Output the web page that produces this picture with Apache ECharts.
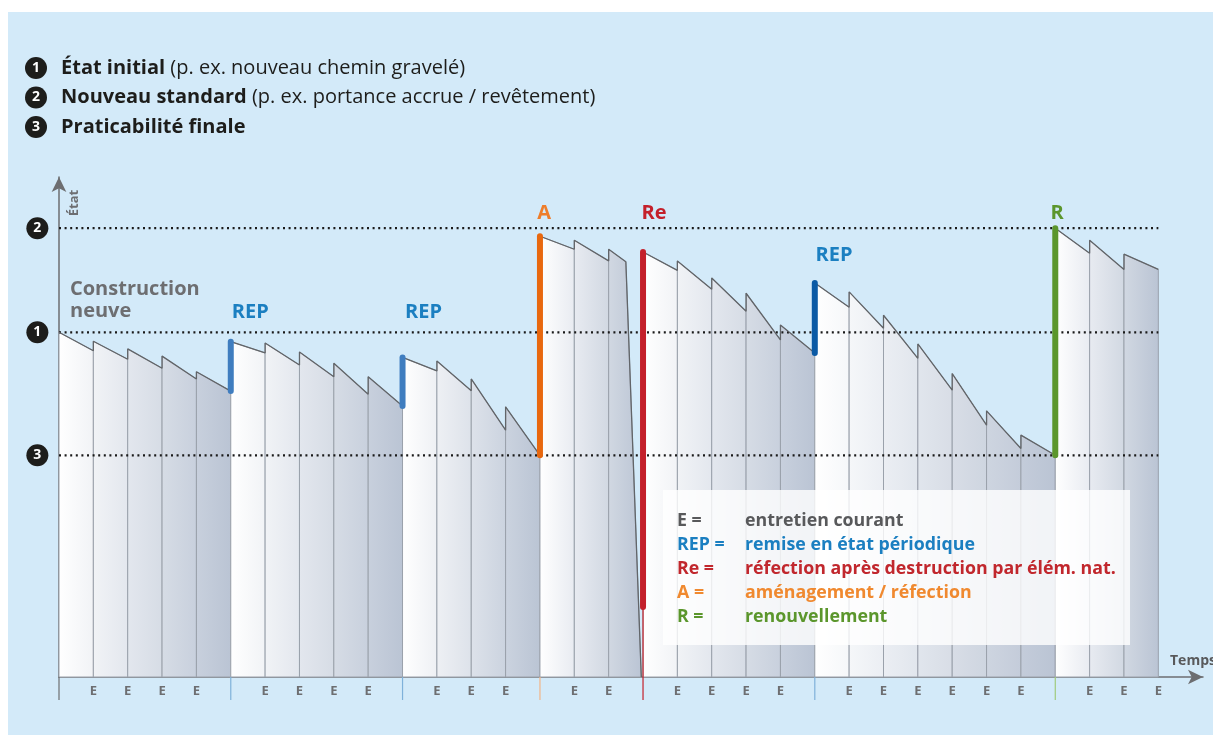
<!DOCTYPE html>
<html>
<head>
<meta charset="utf-8">
<script src="https://cdn.jsdelivr.net/npm/echarts/dist/echarts.min.js"></script>
<style>
  html, body { margin: 0; padding: 0; background: #fff; }
  #bg { position: absolute; left: 8px; top: 12px; width: 1205px; height: 723px; background: #d3eaf9; }
  #main { position: absolute; left: 0; top: 0; width: 1213px; height: 742px; }
</style>
</head>
<body>
<div id="bg"></div>
<div id="main"></div>
<script>
const FONT = '"Open Sans", Roboto, sans-serif'

// état au début / à la fin de chaque intervalle d'entretien (0 = axe du temps, 100 = niveau 2)
const startState = [76.8, 74.8, 73.1, 71.5, 68.0,  74.7, 74.4, 72.4, 69.9, 66.9,  71.2, 70.4, 66.4, 60.2,
  98.2, 97.3, 95.3,  94.7, 92.7, 88.9, 85.5, 78.4,  87.8, 85.8, 80.6, 74.2, 67.6, 59.3, 53.9,  100, 97.3, 94.2]
const endState = [72.7, 70.8, 68.8, 66.4, 63.7,  72.2, 69.5, 66.9, 63.0, 60.4,  68.2, 63.8, 55.0, 49.4,
  95.3, 92.7, 92.5,  90.6, 86.4, 81.5, 75.1, 72.2,  82.4, 77.7, 71.0, 63.9, 56.1, 50.9, 49.4,  94.4, 90.8, 90.8]

// destruction par éléments naturels
const dropSlot = 16
const dropTopT = 16.5
const dropBottomT = 16.95

// limites des périodes (temps) et couleur du trait sous l'axe
const sectionT = [0, 5, 10, 14, 17, 22, 29, 32]
const sectionTickColors = ['#6d6e71', '#7fb1da', '#7fb1da', '#f3b488', '#c4202b', '#7fb1da', '#9fca7c']

// entretien courant
const eTicks = [1, 2, 3, 4, 6, 7, 8, 9, 11, 12, 13, 15, 16, 18, 19, 20, 21, 23, 24, 25, 26, 27, 28, 30, 31, 32]

// interventions
const eventNames = ['REP', 'REP', 'A', 'Re', 'REP', 'R']
const eventT = [5, 10, 14, 17, 22, 29]
const eventLow = [63.7, 60.4, 49.4, 15.6, 72.2, 49.4]
const eventHigh = [74.7, 71.2, 98.2, 94.7, 87.8, 100]
const eventColors = ['#3f7dbf', '#3f7dbf', '#e8680f', '#c4202b', '#0b5aa5', '#5b962c']

// niveaux
const levelNames = ['1', '2', '3']
const levelValues = [76.8, 100, 49.4]

// étiquettes
const labelText = ['Construction\nneuve', 'REP', 'REP', 'A', 'Re', 'REP', 'R']
const labelT = [0.32, 5.57, 10.61, 14.12, 17.32, 22.56, 29.05]
const labelY = [84.0, 81.3, 81.3, 103.3, 103.3, 94.0, 103.3]
const labelColors = ['#6d6e71', '#1b7fc1', '#1b7fc1', '#ee7d2a', '#c4202b', '#1b7fc1', '#5b962c']

const legendKeys = ['E =', 'REP =', 'Re =', 'A =', 'R =']
const legendTexts = ['entretien courant', 'remise en état périodique', 'réfection après destruction par élém. nat.',
  'aménagement / réfection', 'renouvellement']
const legendColors = ['#58595b', '#1b7fc1', '#c1272d', '#f0892f', '#5b962c']

function mix(f) {
  const a = [255, 255, 255], b = [186, 196, 212]
  return 'rgb(' + a.map((v, k) => Math.round(v + (b[k] - v) * f)).join(',') + ')'
}

function renderColumn(params, api) {
  const i = params.dataIndex
  const s = api.value(1), e = api.value(2)
  const tr = i === dropSlot ? dropTopT : i + 1
  const br = i === dropSlot ? dropBottomT : i + 1
  let k = 0
  while (sectionT[k + 1] <= i) k++
  const a = sectionT[k], b = sectionT[k + 1]
  const pts = [api.coord([i, 0]), api.coord([i, s]), api.coord([tr, e]), api.coord([br, 0])]
  return {
    type: 'polygon',
    shape: { points: pts },
    style: {
      fill: new echarts.graphic.LinearGradient(0, 0, 1, 0, [
        { offset: 0, color: mix((i - a) / (b - a)) },
        { offset: 1, color: mix((i + 1 - a) / (b - a)) }
      ]),
      stroke: '#9aa1ab',
      lineWidth: 1
    }
  }
}

function renderEvent(params, api) {
  const i = params.dataIndex
  const t = api.value(0)
  const top = api.coord([t, api.value(2)])
  const bot = api.coord([t, api.value(1)])
  const base = api.coord([t, 0])
  const children = []
  if (eventNames[i] === 'Re') {
    children.push({ type: 'line', shape: { x1: bot[0], y1: bot[1], x2: base[0], y2: base[1] },
      style: { stroke: eventColors[i], lineWidth: 1.2 } })
  }
  children.push({ type: 'line', shape: { x1: top[0], y1: top[1], x2: bot[0], y2: bot[1] },
    style: { stroke: eventColors[i], lineWidth: 6, lineCap: 'round' } })
  return { type: 'group', children }
}

function renderTick(params, api) {
  const p = api.coord([api.value(0), 0])
  return { type: 'line', shape: { x1: p[0], y1: p[1], x2: p[0], y2: p[1] + 23 },
    style: { stroke: sectionTickColors[params.dataIndex], lineWidth: 1.2 } }
}

function renderLabel(params, api) {
  const i = params.dataIndex
  const p = api.coord([api.value(0), api.value(1)])
  return {
    type: 'text', x: p[0], y: p[1],
    style: {
      text: labelText[i], fill: labelColors[i], font: 'bold 20px ' + FONT,
      align: i === 0 ? 'left' : 'center', verticalAlign: 'middle', lineHeight: 22
    }
  }
}

// contour supérieur (avant et après la destruction)
const outlineA = [], outlineB = []
startState.forEach((s, i) => {
  const target = i <= dropSlot ? outlineA : outlineB
  target.push([i, s], [i === dropSlot ? dropTopT : i + 1, endState[i]])
  if (i === dropSlot) target.push([dropBottomT, 0])
})

const header = [
  ['1', '{b|État initial} (p. ex. nouveau chemin gravelé)'],
  ['2', '{b|Nouveau standard} (p. ex. portance accrue / revêtement)'],
  ['3', '{b|Praticabilité finale}']
]

const graphics = []
header.forEach((h, i) => {
  const y = 68 + i * 29.5
  graphics.push({ type: 'circle', shape: { cx: 36, cy: y, r: 11 }, style: { fill: '#1d1d1b' } })
  graphics.push({ type: 'text', x: 36, y: y, style: { text: h[0], fill: '#fff', font: 'bold 14px ' + FONT, align: 'center', verticalAlign: 'middle' } })
  graphics.push({ type: 'text', x: 61, y: y, style: { text: h[1], fill: '#1d1d1b', font: '20px ' + FONT, verticalAlign: 'middle',
    rich: { b: { fontWeight: 'bold', fontSize: 20, fontFamily: FONT, fill: '#1d1d1b' } } } })
})
graphics.push({ type: 'text', x: 74, y: 203, rotation: Math.PI / 2,
  style: { text: 'État', fill: '#6d6e71', font: 'bold 13px ' + FONT, align: 'center', verticalAlign: 'middle' } })
graphics.push({ type: 'text', x: 1170, y: 661,
  style: { text: 'Temps', fill: '#58595b', font: 'bold 14px ' + FONT, align: 'left', verticalAlign: 'middle' } })
graphics.push({ type: 'rect', z: 100, shape: { x: 663, y: 490, width: 467, height: 155 },
  style: { fill: 'rgba(255,255,255,0.8)' } })
legendKeys.forEach((k, i) => {
  const y = 521 + i * 24
  graphics.push({ type: 'text', z: 101, x: 677, y: y, style: { text: k, fill: legendColors[i], font: 'bold 17.8px ' + FONT, verticalAlign: 'middle' } })
  graphics.push({ type: 'text', z: 101, x: 745, y: y, style: { text: legendTexts[i], fill: legendColors[i], font: 'bold 17.8px ' + FONT, verticalAlign: 'middle' } })
})

const myChart = echarts.init(document.getElementById('main'))
const axisLineStyle = { color: '#6d6e71', width: 1.5 }

const option = {
  animation: false,
  backgroundColor: 'transparent',
  grid: { left: 59, top: 177, width: 1144, height: 500 },
  xAxis: {
    type: 'value', min: 0, max: 33.3, interval: 1,
    axisLine: { show: true, symbol: ['none', 'arrow'], symbolSize: [11, 15], lineStyle: axisLineStyle },
    axisTick: { show: false },
    splitLine: { show: false },
    axisLabel: {
      formatter: v => (Math.abs(v - Math.round(v)) < 1e-6 && eTicks.includes(Math.round(v))) ? 'E' : '',
      color: '#6d6e71', fontSize: 13, fontWeight: 'bold', fontFamily: FONT, margin: 8
    }
  },
  yAxis: {
    type: 'value', min: 0, max: 111.4,
    axisLine: { show: true, symbol: ['none', 'arrow'], symbolSize: [11, 15], lineStyle: axisLineStyle },
    axisTick: { show: false },
    axisLabel: { show: false },
    splitLine: { show: false }
  },
  graphic: graphics,
  series: [
    {
      type: 'custom', name: 'colonnes', z: 1, clip: false,
      renderItem: renderColumn,
      data: startState.map((s, i) => [i, s, endState[i]])
    },
    ...levelValues.map(v => ({
      type: 'line', z: 3, symbol: 'none', silent: true,
      lineStyle: { color: '#1a1a1a', width: 2.2, type: [2, 3.6] },
      data: [[0, v], [32, v]]
    })),
    {
      type: 'scatter', z: 4, clip: false, symbolSize: 22,
      itemStyle: { color: '#1d1d1b', opacity: 1 },
      label: { show: true, position: 'inside', formatter: p => levelNames[p.dataIndex], color: '#fff', fontWeight: 'bold', fontSize: 14, fontFamily: FONT },
      data: levelValues.map(v => [-0.63, v])
    },
    { type: 'line', z: 5, symbol: 'none', lineStyle: { color: '#626569', width: 1.3 }, data: outlineA },
    { type: 'line', z: 5, symbol: 'none', lineStyle: { color: '#626569', width: 1.3 }, data: outlineB },
    {
      type: 'custom', z: 6, clip: false, renderItem: renderTick,
      data: sectionT.slice(0, 7).map(t => [t])
    },
    {
      type: 'custom', z: 7, clip: false, renderItem: renderEvent,
      data: eventT.map((t, i) => [t, eventLow[i], eventHigh[i]])
    },
    {
      type: 'custom', z: 8, clip: false, renderItem: renderLabel,
      data: labelT.map((t, i) => [t, labelY[i]])
    }
  ]
}

option && myChart.setOption(option)
window.addEventListener('resize', myChart.resize)
</script>
</body>
</html>
